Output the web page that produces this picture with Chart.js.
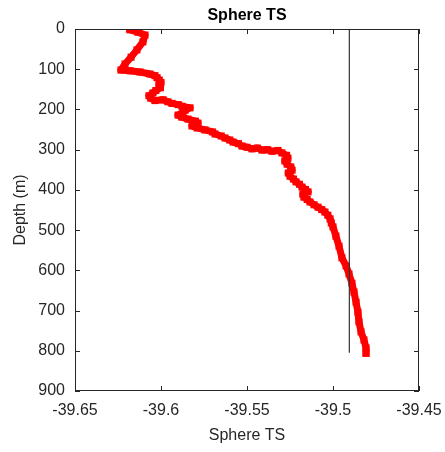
<!DOCTYPE html>
<html>
<head>
<meta charset="utf-8">
<script src="https://cdn.jsdelivr.net/npm/chart.js@4"></script>
<style>
  html, body { margin: 0; padding: 0; background: #fff; }
  #wrap { width: 445px; height: 452px; }
</style>
</head>
<body>
<div id="wrap"><canvas id="tsChart" width="445" height="452"></canvas></div>
<script>
// Sphere TS profile (top to bottom)
const tsValues = [
  -39.6180, -39.6134, -39.6093, -39.6105, -39.6140, -39.6174, -39.6209, -39.6233,
  -39.6180, -39.6122, -39.6064, -39.6035, -39.6023, -39.6010, -39.6000, -39.6012,
  -39.6003, -39.6030, -39.6047, -39.6070, -39.6060, -39.6035, -39.5988, -39.5960,
  -39.5936, -39.5900, -39.5878, -39.5831, -39.5860, -39.5872, -39.5901, -39.5880,
  -39.5843, -39.5800, -39.5785, -39.5820, -39.5790, -39.5744, -39.5700, -39.5686,
  -39.5650, -39.5628, -39.5600, -39.5581, -39.5550, -39.5529, -39.5500, -39.5471,
  -39.5440, -39.5413, -39.5380, -39.5355, -39.5320, -39.5297, -39.5270, -39.5262,
  -39.5280, -39.5267, -39.5245, -39.5238, -39.5260, -39.5250, -39.5230, -39.5215,
  -39.5195, -39.5180, -39.5160, -39.5145, -39.5175, -39.5169, -39.5150, -39.5134,
  -39.5110, -39.5087, -39.5065, -39.5047, -39.5030, -39.5017, -39.5010, -39.5000,
  -39.4983, -39.4965, -39.4948, -39.4924, -39.4907, -39.4890, -39.4878, -39.4866,
  -39.4855, -39.4849, -39.4837, -39.4820, -39.4808, -39.4808
];
const depthValues = [
  2, 8, 15, 32, 52, 70, 87, 102,
  104, 107, 112, 116, 121, 127, 133, 139,
  146, 153, 159, 166, 172, 178, 176, 181,
  185, 188, 192, 196, 202, 207, 214, 219,
  224, 229, 234, 241, 246, 251, 256, 261,
  266, 271, 276, 281, 285, 291, 294, 298,
  296, 301, 300, 304, 302, 308, 314, 321,
  328, 336, 343, 351, 358, 366, 373, 380,
  386, 393, 399, 405, 411, 418, 424, 430,
  437, 443, 449, 455, 463, 472, 482, 492,
  515, 540, 569, 589, 609, 632, 654, 679,
  704, 728, 753, 773, 793, 806
];
// reference line
const refTs = [-39.4905, -39.4905];
const refDepth = [0, 805];

const xTicks = [-39.65, -39.6, -39.55, -39.5, -39.45];
const xTickLabels = ['-39.65', '-39.6', '-39.55', '-39.5', '-39.45'];
const depthTicks = [0, 100, 200, 300, 400, 500, 600, 700, 800, 900];

const font = "'Liberation Sans', Arial, Helvetica, sans-serif";
const axisColor = '#262626';

// box and inward tick marks like the original
const boxPlugin = {
  id: 'boxTicks',
  afterDatasetsDraw(chart) {
    const { ctx, chartArea: a, scales: { x, y } } = chart;
    ctx.save();
    ctx.strokeStyle = axisColor;
    ctx.lineWidth = 1;
    ctx.strokeRect(a.left + 0.5, a.top + 0.5, a.right - a.left - 1, a.bottom - a.top - 1);
    ctx.beginPath();
    xTicks.forEach(v => {
      const px = Math.round(x.getPixelForValue(v)) + 0.5;
      ctx.moveTo(px, a.bottom); ctx.lineTo(px, a.bottom - 5);
      ctx.moveTo(px, a.top); ctx.lineTo(px, a.top + 5);
    });
    depthTicks.forEach(v => {
      const py = Math.round(y.getPixelForValue(v)) + 0.5;
      ctx.moveTo(a.left, py); ctx.lineTo(a.left + 5, py);
      ctx.moveTo(a.right, py); ctx.lineTo(a.right - 5, py);
    });
    ctx.stroke();
    ctx.restore();
  }
};

new Chart(document.getElementById('tsChart'), {
  type: 'scatter',
  data: {
    datasets: [
      {
        label: 'Sphere TS',
        data: tsValues.map((v, i) => ({ x: v, y: depthValues[i] })),
        showLine: true,
        borderColor: '#ff0000',
        backgroundColor: '#ff0000',
        borderWidth: 7,
        pointStyle: 'rect',
        pointRadius: 5,
        pointBorderWidth: 0,
        borderJoinStyle: 'round',
        borderCapStyle: 'square',
        order: 2
      },
      {
        label: 'ref',
        data: refTs.map((v, i) => ({ x: v, y: refDepth[i] })),
        showLine: true,
        borderColor: '#333333',
        borderWidth: 1.2,
        pointRadius: 0,
        order: 1
      }
    ]
  },
  options: {
    responsive: false,
    animation: false,
    events: [],
    layout: { padding: { left: 0, right: 26, top: 0, bottom: 0 } },
    plugins: {
      legend: { display: false },
      tooltip: { enabled: false },
      title: {
        display: true,
        fullSize: false,
        text: 'Sphere TS',
        color: '#000',
        font: { family: font, size: 16, weight: 'bold', lineHeight: 1.2 },
        padding: { top: 6.4, bottom: 3.4 }
      }
    },
    scales: {
      x: {
        type: 'linear',
        min: -39.65,
        max: -39.45,
        afterBuildTicks: s => { s.ticks = xTicks.map(v => ({ value: v })); },
        afterFit: s => { s.height = 61; s.paddingLeft = 0; s.paddingRight = 0; },
        grid: { display: false, drawTicks: false },
        border: { display: false },
        ticks: {
          padding: 10,
          color: axisColor,
          font: { family: font, size: 16 },
          maxRotation: 0,
          callback: (v, i) => xTickLabels[i]
        },
        title: {
          display: true,
          text: 'Sphere TS',
          color: axisColor,
          font: { family: font, size: 16 },
          padding: { top: 0, bottom: 6.4 }
        }
      },
      y: {
        type: 'linear',
        reverse: true,
        min: 0,
        max: 900,
        afterBuildTicks: s => { s.ticks = depthTicks.map(v => ({ value: v })); },
        afterFit: s => { s.width = 75; s.paddingTop = 0; s.paddingBottom = 0; },
        grid: { display: false, drawTicks: false },
        border: { display: false },
        ticks: {
          padding: 10,
          color: axisColor,
          font: { family: font, size: 16 }
        },
        title: {
          display: true,
          text: 'Depth (m)',
          color: axisColor,
          font: { family: font, size: 16 },
          padding: { top: 11, bottom: 0 }
        }
      }
    }
  },
  plugins: [boxPlugin]
});
</script>
</body>
</html>
